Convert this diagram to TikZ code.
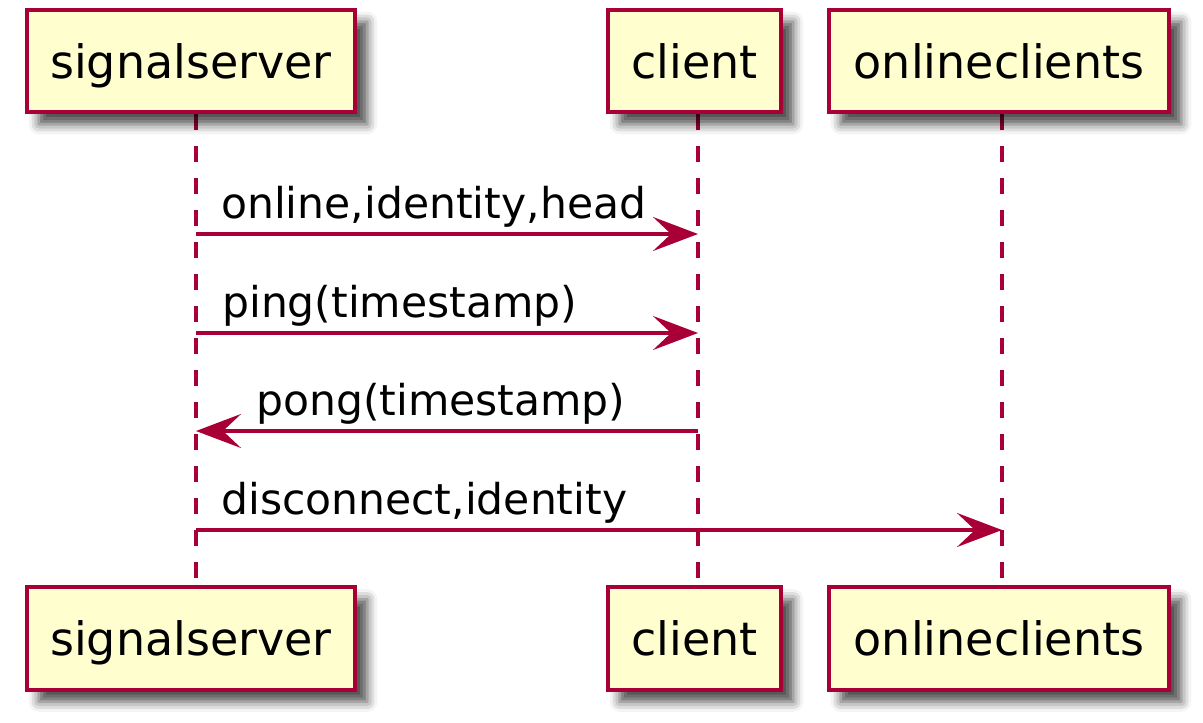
\documentclass[tikz,border=0pt]{standalone}
\usepackage{fontspec}
\setmainfont{DejaVu Sans}
\usetikzlibrary{arrows.meta, positioning, calc, shadows.blur, backgrounds}
\definecolor{umlred}{HTML}{A80036}
\definecolor{umlfill}{HTML}{FEFECE}

\begin{document}
\begin{tikzpicture}[
    x=1pt, y=-1pt,
    participant/.style={
        rectangle,
        minimum width=#1,
        minimum height=102.6pt,
        inner sep=0pt,
        text depth=0pt,
        text centered,
        draw=umlred,
        line width=4pt,
        fill=umlfill,
        font=\fontsize{46}{55}\selectfont,
        blur shadow={shadow xshift=12pt, shadow yshift=-12pt, shadow blur radius=10pt, shadow opacity=70}
    },
    lifeline/.style={
        umlred,
        line width=3.2pt,
        dash pattern=on 16pt off 16pt
    },
    msg/.style={
        umlred,
        line width=3.2pt,
        -{Stealth[length=45pt, width=34pt, inset=18pt]}
    },
    msglabel/.style={
        font=\fontsize{42.5}{50}\selectfont,
        anchor=base west,
        inner sep=0pt
    }
]
\useasboundingbox (0,0) rectangle (1203,723);

% Participants (top)
\node (sigtop) [participant=328.5pt] at (191,61) {signalserver};
\node (clitop) [participant=173.6pt] at (694.5,61) {client};
\node (onltop) [participant=340.6pt] at (999,61) {onlineclients};

% Participants (bottom)
\node (sigbot) [participant=328.5pt] at (191,638.5) {signalserver};
\node (clibot) [participant=173.6pt] at (694.5,638.5) {client};
\node (onlbot) [participant=340.6pt] at (999,638.5) {onlineclients};

% Lifelines
\coordinate (sigx) at (196,0);
\coordinate (clix) at (698,0);
\coordinate (onlx) at (1002,0);
\begin{scope}[on background layer]
\draw [lifeline] (sigx |- sigtop.south) -- (sigx |- sigbot.north);
\draw [lifeline] (clix |- clitop.south) -- (clix |- clibot.north);
\draw [lifeline] (onlx |- onltop.south) -- (onlx |- onlbot.north);
\end{scope}

% Message ends
\coordinate (m1s) at (sigx |- 0,234);
\coordinate (m1e) at (clix |- 0,234);
\coordinate (m2s) at (sigx |- 0,333);
\coordinate (m2e) at (clix |- 0,333);
\coordinate (m3s) at (clix |- 0,431);
\coordinate (m3e) at (sigx |- 0,431);
\coordinate (m4s) at (sigx |- 0,530);
\coordinate (m4e) at (onlx |- 0,530);

% Messages
\draw [msg] (m1s) -- (m1e);
\draw [msg] (m2s) -- (m2e);
\draw [msg] (m3s) -- (m3e);
\draw [msg] (m4s) -- (m4e);

% Labels
\node (l1) [msglabel] at ($(m1s)+(25,-16)$) {online,identity,head};
\node (l2) [msglabel] at ($(m2s)+(26,-16)$) {ping(timestamp)};
\node (l3) [msglabel] at ($(m3e)+(60,-16)$) {pong(timestamp)};
\node (l4) [msglabel] at ($(m4s)+(25,-16)$) {disconnect,identity};

\end{tikzpicture}
\end{document}
